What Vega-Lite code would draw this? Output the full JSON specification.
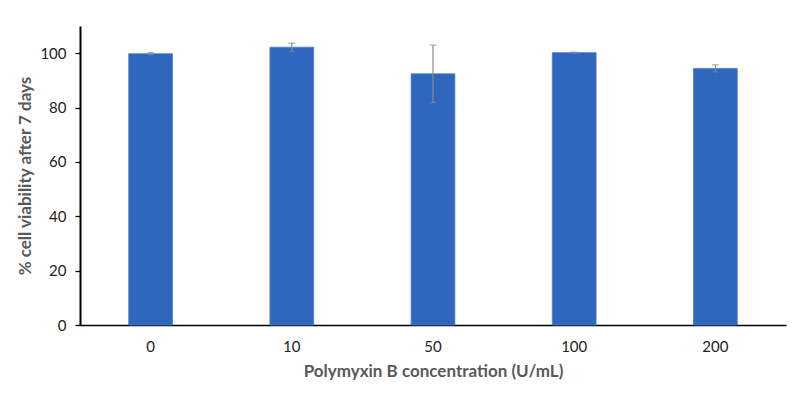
{
  "$schema": "https://vega.github.io/schema/vega-lite/v6.json",
  "width": 706,
  "height": 299,
  "autosize": {"type": "none"},
  "padding": {"left": 80, "top": 26, "right": 14, "bottom": 70},
  "background": "white",
  "config": {
    "view": {"stroke": null},
    "font": "Lato"
  },
  "data": {
    "values": [
      {"conc": "0", "viability": 99.8, "lo": 99.4, "hi": 100.2},
      {"conc": "10", "viability": 102.2, "lo": 100.7, "hi": 103.7},
      {"conc": "50", "viability": 92.4, "lo": 81.8, "hi": 103.0},
      {"conc": "100", "viability": 100.2, "lo": 100.0, "hi": 100.4},
      {"conc": "200", "viability": 94.4, "lo": 93.1, "hi": 95.7}
    ]
  },
  "encoding": {
    "x": {
      "field": "conc",
      "type": "ordinal",
      "sort": null,
      "scale": {"paddingInner": 0.69, "paddingOuter": 0.345},
      "axis": {
        "title": "Polymyxin B concentration (U/mL)",
        "labelAngle": 0,
        "labelFontSize": 15,
        "labelColor": "#222222",
        "labelPadding": 14,
        "ticks": false,
        "domainColor": "#000000",
        "domainWidth": 1.6,
        "titleFontSize": 17,
        "titleFontWeight": "bold",
        "titleColor": "#595959",
        "titlePadding": 9
      }
    }
  },
  "layer": [
    {
      "mark": {"type": "bar", "color": "#2F67BF", "stroke": "#4A7CCB", "strokeWidth": 0.8},
      "encoding": {
        "y": {
          "field": "viability",
          "type": "quantitative",
          "scale": {"domain": [0, 110], "nice": false},
          "axis": {
            "title": "% cell viability after 7 days",
            "values": [0, 20, 40, 60, 80, 100],
            "grid": false,
            "tickSize": 5,
            "tickColor": "#000000",
            "tickWidth": 1.3,
            "domainColor": "#000000",
            "domainWidth": 2,
            "labelFontSize": 15,
            "labelColor": "#222222",
            "labelPadding": 9,
            "titleFontSize": 17,
            "titleFontWeight": "bold",
            "titleColor": "#595959",
            "titlePadding": 5
          }
        }
      }
    },
    {
      "mark": {"type": "rule", "color": "#8C8C8C", "strokeWidth": 1.2},
      "encoding": {
        "y": {"field": "lo", "type": "quantitative"},
        "y2": {"field": "hi"}
      }
    },
    {
      "mark": {"type": "tick", "color": "#8C8C8C", "thickness": 1.2, "size": 7},
      "encoding": {
        "y": {"field": "hi", "type": "quantitative"}
      }
    },
    {
      "mark": {"type": "tick", "color": "#7A8FB5", "thickness": 1, "size": 6},
      "encoding": {
        "y": {"field": "lo", "type": "quantitative"}
      }
    }
  ]
}
